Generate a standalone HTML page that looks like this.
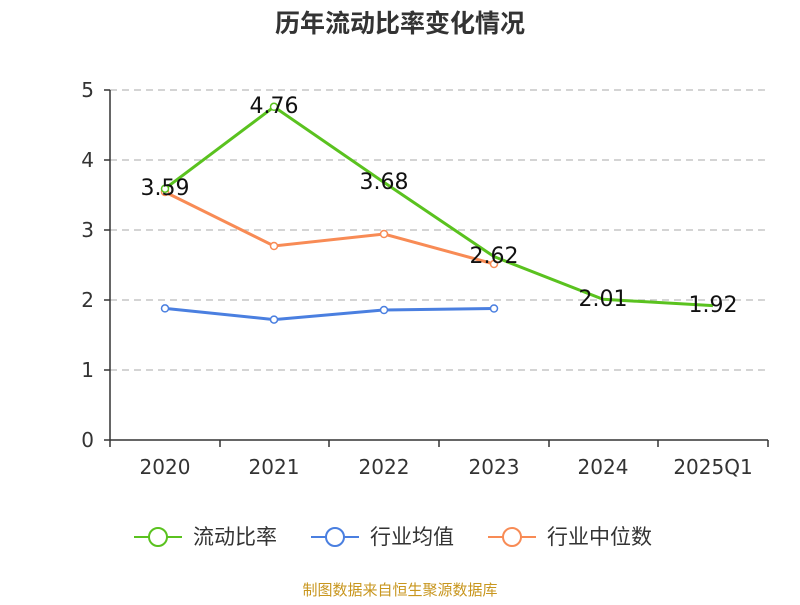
<!DOCTYPE html>
<html><head><meta charset="utf-8"><style>body{margin:0;background:#fff}</style></head><body>
<svg width="800" height="600" xmlns="http://www.w3.org/2000/svg" font-family="DejaVu Sans, Noto Sans CJK SC, sans-serif">
<text x="400" y="32" text-anchor="middle" font-size="25" font-weight="bold" fill="#333" font-family="Noto Sans CJK SC, sans-serif">历年流动比率变化情况</text>
<g stroke="#bbb" stroke-dasharray="7,5" stroke-width="1.2">
<line x1="110" y1="90" x2="768" y2="90"/><line x1="110" y1="160" x2="768" y2="160"/><line x1="110" y1="230" x2="768" y2="230"/><line x1="110" y1="300" x2="768" y2="300"/><line x1="110" y1="370" x2="768" y2="370"/></g>
<g stroke="#333" stroke-width="1.5"><line x1="110" y1="90" x2="110" y2="440"/><line x1="110" y1="440" x2="768" y2="440"/>
<line x1="104" y1="90" x2="110" y2="90"/><line x1="104" y1="160" x2="110" y2="160"/><line x1="104" y1="230" x2="110" y2="230"/><line x1="104" y1="300" x2="110" y2="300"/><line x1="104" y1="370" x2="110" y2="370"/><line x1="104" y1="440" x2="110" y2="440"/>
<line x1="110" y1="440" x2="110" y2="447"/><line x1="220" y1="440" x2="220" y2="447"/><line x1="329" y1="440" x2="329" y2="447"/><line x1="439" y1="440" x2="439" y2="447"/><line x1="549" y1="440" x2="549" y2="447"/><line x1="658" y1="440" x2="658" y2="447"/><line x1="768" y1="440" x2="768" y2="447"/></g>
<g font-size="20" fill="#333" text-anchor="end"><text x="94" y="97">5</text><text x="94" y="167">4</text><text x="94" y="237">3</text><text x="94" y="307">2</text><text x="94" y="377">1</text><text x="94" y="447">0</text></g>
<g font-size="20" fill="#333" text-anchor="middle"><text x="165" y="474">2020</text><text x="274" y="474">2021</text><text x="384" y="474">2022</text><text x="494" y="474">2023</text><text x="603" y="474">2024</text><text x="713" y="474">2025Q1</text></g>
<polyline fill="none" stroke="#4a7fe0" stroke-width="3" points="165,308.4 274,319.6 384,310 494,308.5"/>
<g fill="#fff" stroke="#4a7fe0" stroke-width="1.5"><circle cx="165" cy="308.4" r="3.5"/><circle cx="274" cy="319.6" r="3.5"/><circle cx="384" cy="310" r="3.5"/><circle cx="494" cy="308.5" r="3.5"/></g>
<polyline fill="none" stroke="#f88b55" stroke-width="3" points="165,192 274,246 384,234 494,264"/>
<g fill="#fff" stroke="#f88b55" stroke-width="1.5"><circle cx="165" cy="192" r="3.5"/><circle cx="274" cy="246" r="3.5"/><circle cx="384" cy="234" r="3.5"/><circle cx="494" cy="264" r="3.5"/></g>
<polyline fill="none" stroke="#5ac21f" stroke-width="3" points="165,188.7 274,106.8 384,182.4 494,256.6 603,299.3 713,305.6"/>
<g fill="#fff" stroke="#5ac21f" stroke-width="1.5"><circle cx="165" cy="188.7" r="3.5"/><circle cx="274" cy="106.8" r="3.5"/></g>
<g font-size="22" fill="#111" text-anchor="middle"><text x="165" y="195">3.59</text><text x="274" y="113">4.76</text><text x="384" y="189">3.68</text><text x="494" y="263">2.62</text><text x="603" y="306">2.01</text><text x="713" y="312">1.92</text></g>
<g stroke-width="2" fill="#fff"><line x1="134" y1="537" x2="182" y2="537" stroke="#5ac21f"/><circle cx="158" cy="537" r="9" stroke="#5ac21f"/>
<line x1="311" y1="537" x2="359" y2="537" stroke="#4a7fe0"/><circle cx="335" cy="537" r="9" stroke="#4a7fe0"/>
<line x1="488" y1="537" x2="536" y2="537" stroke="#f88b55"/><circle cx="512" cy="537" r="9" stroke="#f88b55"/></g>
<g font-size="21" fill="#333" font-family="Noto Sans CJK SC, sans-serif"><text x="193" y="544">流动比率</text><text x="370" y="544">行业均值</text><text x="547" y="544">行业中位数</text></g>
<text x="400" y="595" text-anchor="middle" font-size="15" fill="#c8961e" font-family="Noto Sans CJK SC, sans-serif">制图数据来自恒生聚源数据库</text>
</svg></body></html>
